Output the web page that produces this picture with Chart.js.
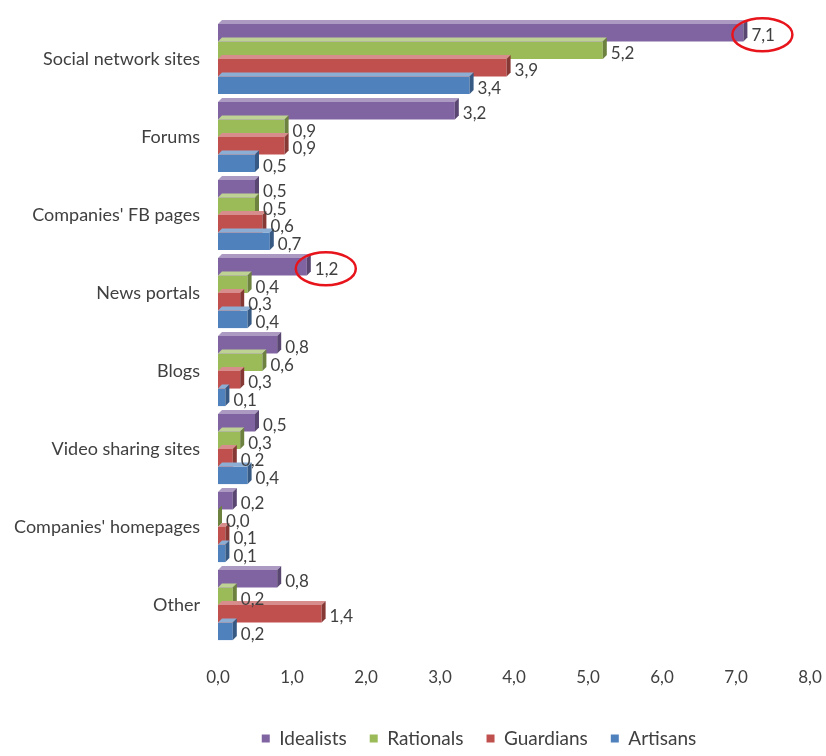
<!DOCTYPE html>
<html>
<head>
<meta charset="utf-8">
<script src="https://cdn.jsdelivr.net/npm/chart.js@4.4.0/dist/chart.umd.min.js"></script>
<style>
  html, body { margin: 0; padding: 0; background: #fff; overflow: hidden; }
  #wrap { width: 826px; height: 756px; }
</style>
</head>
<body>
<div id="wrap"><canvas id="chart"></canvas></div>
<script>
const categories = ["Social network sites", "Forums", "Companies' FB pages", "News portals",
                    "Blogs", "Video sharing sites", "Companies' homepages", "Other"];
const idealists = [7.1, 3.2, 0.5, 1.2, 0.8, 0.5, 0.2, 0.8];
const rationals = [5.2, 0.9, 0.5, 0.4, 0.6, 0.3, 0.0, 0.2];
const guardians = [3.9, 0.9, 0.6, 0.3, 0.3, 0.2, 0.1, 1.4];
const artisans  = [3.4, 0.5, 0.7, 0.4, 0.1, 0.4, 0.1, 0.2];
const xTicks = [0, 1, 2, 3, 4, 5, 6, 7, 8];
// [dataset, index] of the labels circled in red
const circled = [[0, 0], [0, 3]];

const fmt = v => v.toFixed(1).replace('.', ',');
const FONT = "Lato, 'Open Sans', sans-serif";

function shade(hex, f) {
    const n = parseInt(hex.slice(1), 16);
    let r = n >> 16, g = (n >> 8) & 255, b = n & 255;
    if (f < 0) { r *= 1 + f; g *= 1 + f; b *= 1 + f; }
    else { r += (255 - r) * f; g += (255 - g) * f; b += (255 - b) * f; }
    return `rgb(${r | 0},${g | 0},${b | 0})`;
}

// fake 3D: lighter top face, darker end face
const bars3d = {
    id: 'bars3d',
    afterDatasetsDraw(chart) {
        const ctx = chart.ctx;
        const d = 4;
        chart.data.datasets.forEach((ds, i) => {
            chart.getDatasetMeta(i).data.forEach(bar => {
                const x0 = bar.base, x1 = bar.x;
                const top = bar.y - bar.height / 2, bot = bar.y + bar.height / 2;
                ctx.save();
                ctx.fillStyle = shade(ds.backgroundColor, 0.35);
                ctx.beginPath();
                ctx.moveTo(x0, top); ctx.lineTo(x0 + d, top - d);
                ctx.lineTo(x1 + d, top - d); ctx.lineTo(x1, top);
                ctx.closePath(); ctx.fill();
                ctx.fillStyle = shade(ds.backgroundColor, -0.3);
                ctx.beginPath();
                ctx.moveTo(x1, top); ctx.lineTo(x1 + d, top - d);
                ctx.lineTo(x1 + d, bot - d); ctx.lineTo(x1, bot);
                ctx.closePath(); ctx.fill();
                ctx.restore();
            });
        });
    }
};

const valueLabels = {
    id: 'valueLabels',
    afterDatasetsDraw(chart) {
        const ctx = chart.ctx;
        ctx.save();
        ctx.font = `17px ${FONT}`;
        ctx.fillStyle = '#404040';
        ctx.textBaseline = 'middle';
        chart.data.datasets.forEach((ds, i) => {
            chart.getDatasetMeta(i).data.forEach((bar, j) => {
                ctx.fillText(fmt(ds.data[j]), bar.x + 8, bar.y + 3);
            });
        });
        ctx.strokeStyle = '#e8141c';
        ctx.lineWidth = 2.5;
        circled.forEach(([i, j]) => {
            const bar = chart.getDatasetMeta(i).data[j];
            ctx.beginPath();
            ctx.ellipse(bar.x + 19, bar.y + 2, 30, 16.5, 0, 0, Math.PI * 2);
            ctx.stroke();
        });
        ctx.restore();
    }
};

// legend in the reference sits right of the canvas centre and a bit lower
const legendShift = {
    id: 'legendShift',
    afterLayout(chart) {
        chart.legend.left += 66;
        chart.legend.right += 66;
        chart.legend.top += 2;
    }
};

new Chart(document.getElementById('chart'), {
    type: 'bar',
    data: {
        labels: categories,
        datasets: [
            { label: 'Idealists', data: idealists, backgroundColor: '#8064A2' },
            { label: 'Rationals', data: rationals, backgroundColor: '#9BBB59' },
            { label: 'Guardians', data: guardians, backgroundColor: '#C0504D' },
            { label: 'Artisans',  data: artisans,  backgroundColor: '#4F81BD' }
        ]
    },
    options: {
        indexAxis: 'y',
        responsive: true,
        maintainAspectRatio: false,
        animation: false,
        categoryPercentage: 0.9,
        barPercentage: 1.0,
        layout: { padding: { top: 20, right: 0, left: 0, bottom: 0 } },
        scales: {
            x: {
                min: 0, max: 8,
                afterBuildTicks: s => { s.ticks = xTicks.map(v => ({ value: v })); },
                afterFit: s => { s.height = 60; s.paddingLeft = 0; s.paddingRight = 16; },
                grid: { display: false, drawTicks: false },
                border: { display: false },
                ticks: { color: '#404040', font: { family: FONT, size: 17 }, padding: 23,
                         callback: v => fmt(v) }
            },
            y: {
                grid: { display: false, drawTicks: false },
                border: { display: false },
                afterFit: s => { s.width = 218; s.paddingTop = 0; s.paddingBottom = 0; },
                ticks: { color: '#404040', font: { family: FONT, size: 18 }, padding: 18 }
            }
        },
        plugins: {
            legend: {
                position: 'bottom',
                labels: { color: '#404040', font: { family: FONT, size: 19 },
                          boxWidth: 8, boxHeight: 8, padding: 23 }
            },
            tooltip: { enabled: false }
        }
    },
    plugins: [bars3d, valueLabels, legendShift]
});
</script>
</body>
</html>
